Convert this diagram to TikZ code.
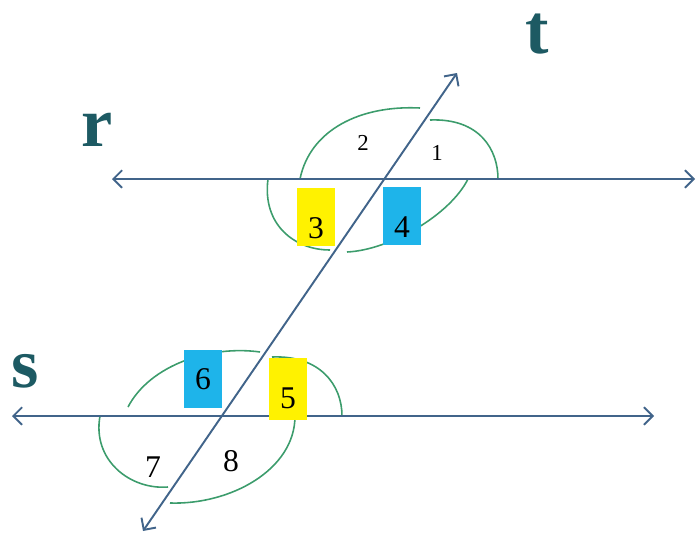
\documentclass[tikz,border=0pt]{standalone}
\usepackage{fontspec}
\setmainfont{Liberation Serif}
\usetikzlibrary{arrows.meta}

\definecolor{lineblue}{HTML}{41648A}
\definecolor{arcgreen}{HTML}{3C9C6C}
\definecolor{labelteal}{HTML}{1D5A63}
\definecolor{boxyellow}{HTML}{FFF200}
\definecolor{boxblue}{HTML}{1EB4EA}

\begin{document}
\begin{tikzpicture}[x=0.02cm, y=-0.02cm,
    line/.style={draw=lineblue, line width=1.1pt,
        {Straight Barb[length=5pt,width=10pt]}-{Straight Barb[length=5pt,width=10pt]}},
    arcline/.style={draw=arcgreen, line width=0.9pt},
    linelabel/.style={text=labelteal, inner sep=0pt,
        font=\fontsize{40}{40}\selectfont\bfseries},
    anglebox/.style={rectangle, minimum width=22pt, minimum height=33pt,
        inner sep=0pt, font=\fontsize{18}{18}\selectfont},
    lowtext/.style={text height=24pt, text depth=0pt},
    smallnum/.style={inner sep=0pt, font=\fontsize{13}{13}\selectfont},
    bignum/.style={inner sep=0pt, font=\fontsize{18}{18}\selectfont}
]
\useasboundingbox (0,0) rectangle (697,534);

% end points of the three lines
\coordinate (rL) at (112,179);
\coordinate (rR) at (695,179);
\coordinate (sL) at (12,416);
\coordinate (sR) at (654,416);
\coordinate (tB) at (143,531);
\coordinate (tT) at (457,73);

% angle arcs round the upper crossing
\draw[arcline] (300,179) .. controls (310,130) and (360,105) .. (420,108);
\draw[arcline] (430,120) .. controls (480,118) and (498,150) .. (498,179);
\draw[arcline] (268,179) .. controls (262,225) and (295,250) .. (330,250);
\draw[arcline] (347,252) .. controls (390,250) and (450,215) .. (468,179);
% angle arcs round the lower crossing
\draw[arcline] (128,407) .. controls (150,365) and (210,345) .. (260,352);
\draw[arcline] (272,357) .. controls (320,355) and (342,385) .. (342,416);
\draw[arcline] (100,416) .. controls (92,460) and (130,490) .. (168,487);
\draw[arcline] (170,503) .. controls (230,505) and (295,470) .. (295,416);

\draw[line] (rL) -- (rR);
\draw[line] (sL) -- (sR);
\draw[line] (tB) -- (tT);

\node[linelabel] (labt) at (537,34) {t};
\node[linelabel] (labr) at (97,130) {r};
\node[linelabel] (labs) at (25,371) {s};

\node[smallnum] (a2) at (363,143) {2};
\node[smallnum] (a1) at (437,153) {1};
\node[anglebox, lowtext, fill=boxyellow] (a3) at (316,217) {3};
\node[anglebox, lowtext, fill=boxblue] (a4) at (402,216) {4};
\node[anglebox, fill=boxblue] (a6) at (203,379) {6};
\node[anglebox, fill=boxyellow, minimum height=35pt,
      text height=22pt, text depth=0pt] (a5) at (288,389) {5};
\node[bignum] (a7) at (153,467) {7};
\node[bignum] (a8) at (231,461) {8};
\end{tikzpicture}
\end{document}
